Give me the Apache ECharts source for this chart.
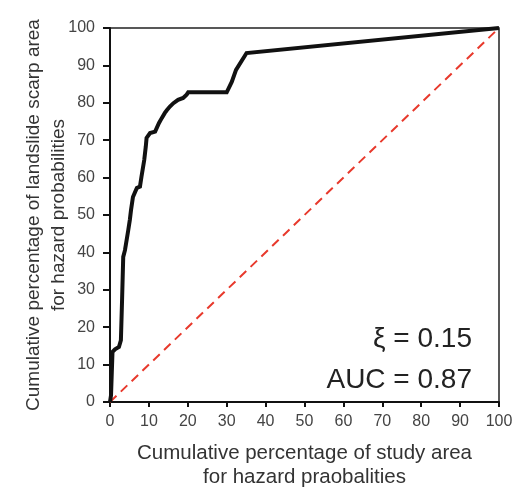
<!DOCTYPE html>
<html>
<head>
<meta charset="utf-8">
<script src="https://cdn.jsdelivr.net/npm/echarts@6/dist/echarts.min.js"></script>
<style>html,body{margin:0;padding:0;background:#fff;}#c{width:526px;height:490px;}</style>
</head>
<body>
<div id="c"></div>
<script>
var rocX = [0, 0.26, 0.64, 1.28, 2.3, 2.8, 3.1, 3.4, 3.85, 4.7, 5.1, 5.4, 5.9, 6.9, 7.7, 8.1, 8.8, 9.2, 9.4, 10.3, 11.6, 12.6, 13.3, 14.1, 14.6, 15.4, 16.3, 17.5, 18.8, 19.7, 20.1, 30.0, 31.3, 32.4, 35.1, 100];
var rocY = [0, 1.8, 13.4, 14.1, 14.7, 16.5, 27.2, 38.8, 40.6, 46.0, 48.7, 51.3, 54.8, 57.2, 57.6, 60.3, 64.7, 68.3, 70.6, 71.9, 72.3, 74.6, 75.9, 77.3, 78.0, 79.0, 79.9, 80.8, 81.3, 82.2, 82.8, 82.8, 85.6, 88.8, 93.3, 100];
var refX = [0, 100];
var refY = [0, 100];
var xTicks = [0, 10, 20, 30, 40, 50, 60, 70, 80, 90, 100];
var yTicks = [0, 10, 20, 30, 40, 50, 60, 70, 80, 90, 100];
var xName = 'Cumulative percentage of study area\nfor hazard praobalities';
var yName = 'Cumulative percentage of landslide scarp area\nfor hazard probabilities';
var note1 = 'ξ = 0.15';
var note2 = 'AUC = 0.87';

function pairs(a, b) { return a.map(function (v, i) { return [v, b[i]]; }); }

var chart = echarts.init(document.getElementById('c'), null, {renderer: 'canvas'});
var font = 'Liberation Sans, Arial, sans-serif';
chart.setOption({
  animation: false,
  backgroundColor: '#fff',
  grid: {left: 110, right: 27, top: 28, bottom: 88, show: true, borderColor: '#222', borderWidth: 1.5, backgroundColor: 'transparent', outerBoundsMode: 'none', containLabel: false},
  xAxis: {
    type: 'value', min: 0, max: 100, interval: 10,
    name: xName, nameLocation: 'middle', nameGap: 39, nameMoveOverlap: false,
    nameTextStyle: {fontFamily: font, fontSize: 20.5, color: '#333', lineHeight: 24},
    axisLine: {show: true, lineStyle: {color: '#111', width: 2}},
    axisTick: {show: true, length: 5, lineStyle: {color: '#111', width: 2}},
    axisLabel: {fontFamily: font, fontSize: 16, color: '#444', margin: 12,
      formatter: function (v) { return xTicks.indexOf(v) >= 0 ? String(v) : ''; }},
    splitLine: {show: false}
  },
  yAxis: {
    type: 'value', min: 0, max: 100, interval: 10,
    name: yName, nameLocation: 'middle', nameGap: 39, nameRotate: 90, nameMoveOverlap: false,
    nameTextStyle: {fontFamily: font, fontSize: 19, color: '#333', lineHeight: 25},
    axisLine: {show: true, lineStyle: {color: '#111', width: 2}},
    axisTick: {show: true, length: 7, lineStyle: {color: '#111', width: 2}},
    axisLabel: {fontFamily: font, fontSize: 16, color: '#444', margin: 15,
      formatter: function (v) { return yTicks.indexOf(v) >= 0 ? String(v) : ''; }},
    splitLine: {show: false}
  },
  series: [
    {type: 'line', data: pairs(refX, refY), showSymbol: false, z: 2,
      lineStyle: {color: '#e8392c', width: 2, type: [9, 6]}},
    {type: 'line', data: pairs(rocX, rocY), showSymbol: false, z: 3,
      lineStyle: {color: '#111', width: 4, join: 'miter'}}
  ],
  graphic: [
    {type: 'text', right: 54, top: 325, style: {text: note1, fontFamily: font, fontSize: 28, fill: '#222', textAlign: 'right'}},
    {type: 'text', right: 54, top: 366, style: {text: note2, fontFamily: font, fontSize: 28, fill: '#222', textAlign: 'right'}}
  ]
});
</script>
</body>
</html>
